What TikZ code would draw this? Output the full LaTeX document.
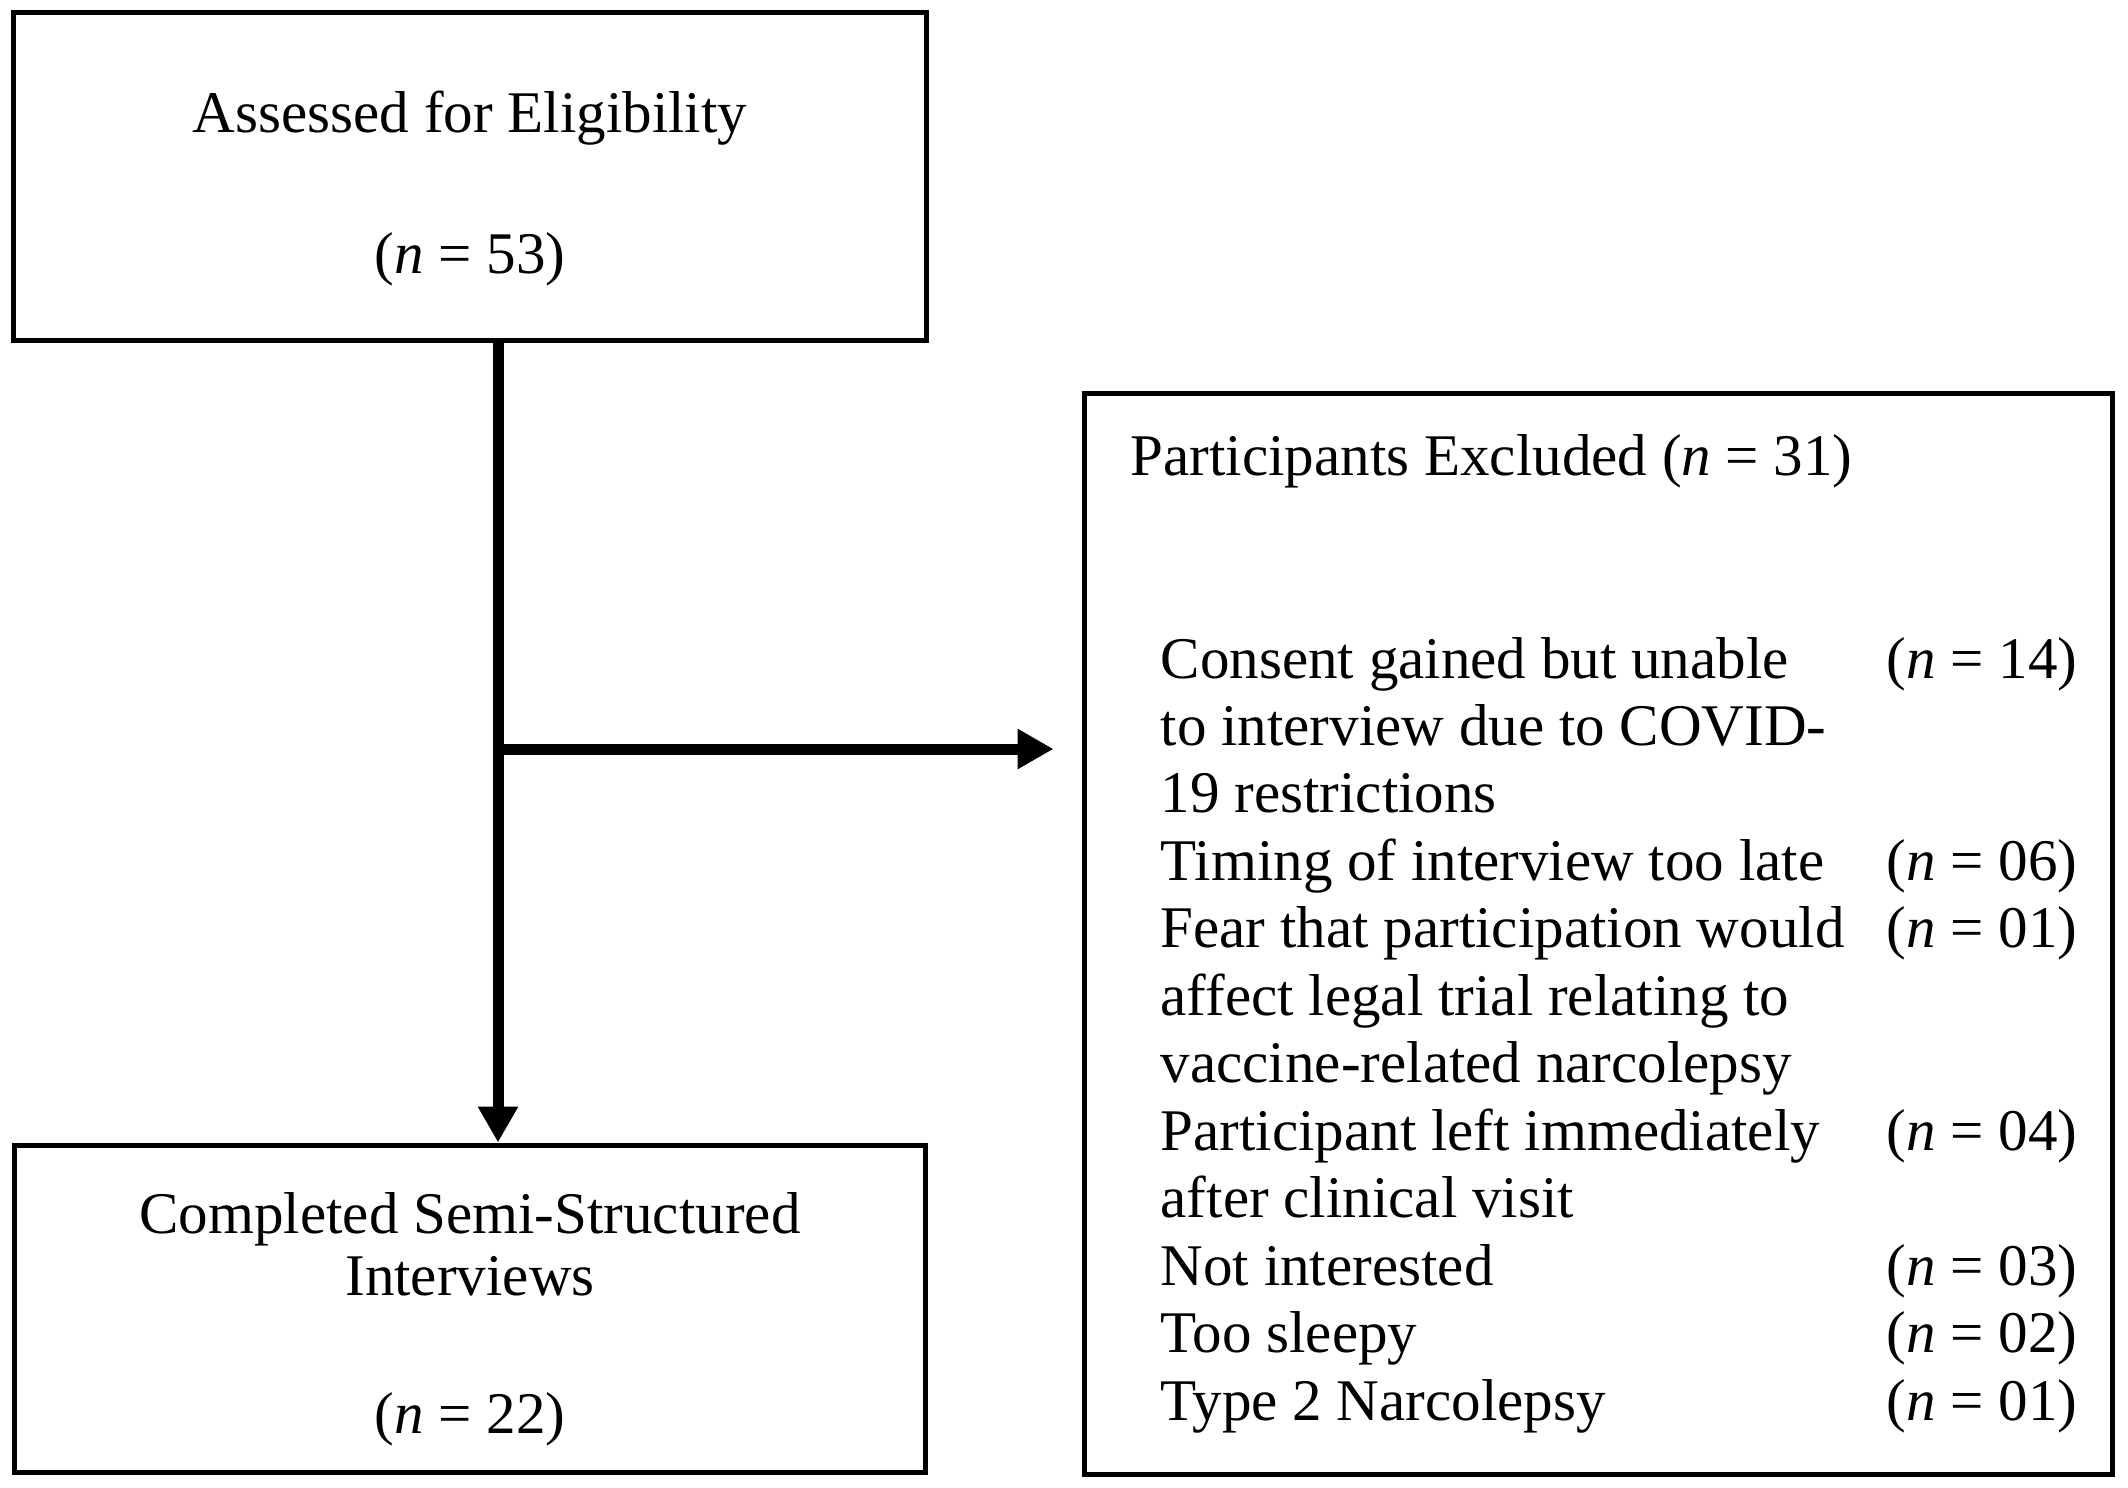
\documentclass[tikz,border=0pt]{standalone}
\usepackage{fontspec}
\setmainfont{Liberation Serif}
\usepackage{array}
\usetikzlibrary{arrows.meta}
\begin{document}
\begin{tikzpicture}[
  box/.style={draw=black, line width=0.05cm, rectangle, inner sep=0pt},
  conn/.style={draw=black, line width=0.11cm, -{Triangle[length=0.36cm,width=0.38cm]}},
  txt/.style={inner sep=0pt, font=\fontsize{16.8}{19.2}\selectfont},
]
\useasboundingbox (0,0) rectangle (21.28,-14.87);
\fill[white] (0,0) rectangle (21.28,-14.87);
% boxes
\node[box, minimum width=9.13cm, minimum height=3.27cm] (n1) at (4.70,-1.765) {};
\node[box, minimum width=9.11cm, minimum height=3.27cm] (n2) at (4.695,-13.085) {};
\node[box, minimum width=10.28cm, minimum height=10.81cm] (n3) at (15.98,-9.335) {};
% texts
\node[txt, anchor=base] (t1a) at (4.70,-1.33) {Assessed for Eligibility};
\node[txt, anchor=base] (t1b) at (4.70,-2.73) {(\textit{n} = 53)};
\node[txt, anchor=base] (t2a) at (4.70,-12.33) {Completed Semi-Structured};
\node[txt, anchor=base] (t2b) at (4.70,-12.95) {Interviews};
\node[txt, anchor=base] (t2c) at (4.70,-14.33) {(\textit{n} = 22)};
\node[txt, anchor=base west] (t3) at (11.30,-4.75) {Participants Excluded (\textit{n} = 31)};
\node[txt, anchor=base west] (reasons) at (11.60,-6.78) {%
\begin{tabular}[t]{@{}p{7.26cm}@{}l@{}}
Consent gained but unable & (\textit{n} = 14)\\
to interview due to COVID- & \\
19 restrictions & \\
Timing of interview too late & (\textit{n} = 06)\\
Fear that participation would & (\textit{n} = 01)\\
affect legal trial relating to & \\
vaccine-related narcolepsy & \\
Participant left immediately & (\textit{n} = 04)\\
after clinical visit & \\
Not interested & (\textit{n} = 03)\\
Too sleepy & (\textit{n} = 02)\\
Type 2 Narcolepsy & (\textit{n} = 01)
\end{tabular}};
% connectors
\coordinate (vx) at (4.98,0);
\coordinate (branch) at (4.98,-7.49);
\draw[conn] (n1.south -| vx) -- (n2.north -| vx);
\draw[conn, shorten >=0.28cm] (branch) -- (branch -| n3.west);
\end{tikzpicture}
\end{document}
